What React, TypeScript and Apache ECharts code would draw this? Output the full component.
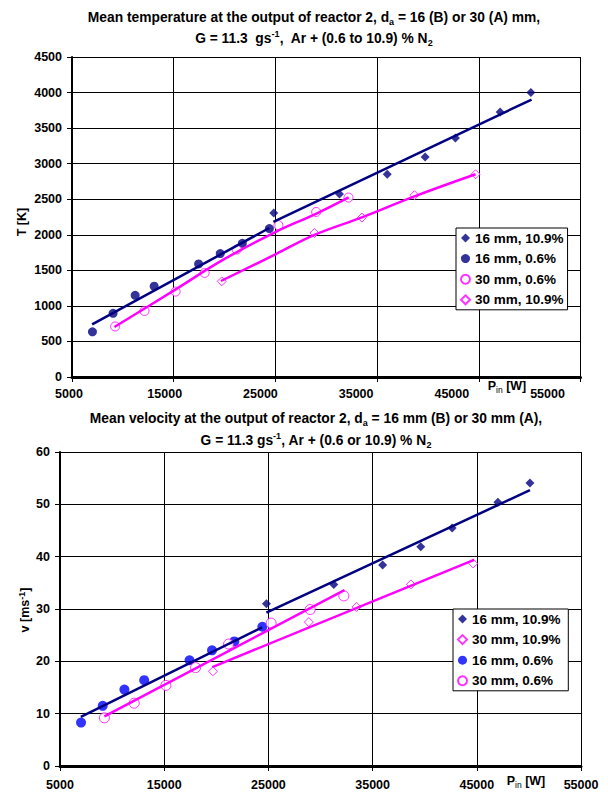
import React, { useEffect, useRef } from 'react';
import * as echarts from 'echarts';

// ---------- Top chart: mean temperature T [K] vs P_in [W] ----------
const tempP16_109 = [24840, 31300, 36000, 39720, 42700, 47100, 50120];
const tempT16_109 = [2305, 2575, 2850, 3094, 3361, 3727, 4000];
const tempP16_06 = [7010, 9040, 11210, 13080, 17450, 19580, 21750, 24410];
const tempT16_06 = [635, 896, 1149, 1276, 1590, 1735, 1880, 2087];
const tempP30_06 = [9240, 12130, 15190, 18040, 21200, 25300, 29010, 32190];
const tempT30_06 = [710, 928, 1201, 1463, 1792, 2134, 2321, 2523];
const tempP30_109 = [19720, 28840, 33510, 38670, 44680];
const tempT30_109 = [1345, 2025, 2242, 2556, 2851];

// trend lines
const fitTP16_06 = [6980, 24400];
const fitTT16_06 = [741, 2095];
const fitTP16_109 = [24800, 50190];
const fitTT16_109 = [2180, 3902];
const fitTP30_06 = [9170, 15000, 20000, 25000, 29040, 32200];
const fitTT30_06 = [703, 1215, 1660, 2039, 2298, 2525];
const fitTP30_109 = [19650, 25000, 28840, 33510, 38670, 44680];
const fitTT30_109 = [1350, 1725, 1998, 2245, 2540, 2851];

// ---------- Bottom chart: mean velocity v [m/s] vs P_in [W] ----------
const velP16_109 = [24810, 31280, 35960, 39620, 42630, 47020, 50100];
const velV16_109 = [31.0, 34.7, 38.4, 41.9, 45.5, 50.4, 54.1];
const velP30_109 = [19680, 28880, 33460, 38680, 44650];
const velV30_109 = [18.1, 27.5, 30.4, 34.7, 38.7];
const velP16_06 = [7020, 9100, 11180, 13080, 17430, 19590, 21730, 24420];
const velV16_06 = [8.3, 11.5, 14.6, 16.4, 20.2, 22.1, 23.8, 26.6];
const velP30_06 = [9260, 12120, 15160, 18010, 21180, 25260, 29010, 32240];
const velV30_06 = [9.2, 12.0, 15.4, 18.8, 23.3, 27.3, 29.9, 32.5];

const fitVP16_06 = [7000, 24400];
const fitVV16_06 = [9.4, 26.5];
const fitVP16_109 = [24810, 50100];
const fitVV16_109 = [29.3, 52.7];
const fitVP30_06 = [9260, 32300];
const fitVV30_06 = [9.5, 33.6];
const fitVP30_109 = [19620, 44740];
const fitVV30_109 = [18.9, 39.4];

// axis ranges / tick steps
const xMin = 5000;
const xMax = 55000;
const xStep = 10000;
const tMax = 4500;
const tStep = 500;
const vMax = 60;
const vStep = 10;

const topLegend = ['16 mm, 10.9%', '16 mm, 0.6%', '30 mm, 0.6%', '30 mm, 10.9%'];
const botLegend = ['16 mm, 10.9% ', '30 mm, 10.9% ', '16 mm, 0.6% ', '30 mm, 0.6% '];

const NAVY = '#000080';
const MAG = '#FF00FF';
const BLUE = '#0000FF';
const FONT = '"Liberation Sans", Arial, Helvetica, sans-serif';
const LABEL_SIZE = 12.5;

const zip = (a: number[], b: number[]) => a.map((v, i) => [v, b[i]]);
const plain = (v: number) => String(v);

const labelStyle = (margin: number) => ({
  color: '#000',
  fontWeight: 'bold',
  fontSize: LABEL_SIZE,
  fontFamily: FONT,
  margin,
  formatter: plain,
});

function xAxisCfg(gridIndex: number, showLabels: boolean) {
  return {
    type: 'value',
    gridIndex,
    min: xMin,
    max: xMax,
    interval: xStep,
    axisLine: { show: true, onZero: false, lineStyle: { color: '#000', width: 3 } },
    axisTick: { show: true, inside: false, length: 5, lineStyle: { color: '#000', width: 1 } },
    axisLabel: { ...labelStyle(12), show: showLabels },
    splitLine: { show: true, lineStyle: { color: '#000', width: 1 } },
  };
}

// label-only axis (the top chart's tick labels sit slightly left of their ticks)
function xLabelAxis(gridIndex: number) {
  return {
    type: 'value',
    gridIndex,
    min: xMin,
    max: xMax,
    interval: xStep,
    axisLine: { show: false },
    axisTick: { show: false },
    axisLabel: labelStyle(10),
    splitLine: { show: false },
  };
}

function yAxisCfg(gridIndex: number, max: number, step: number) {
  return {
    type: 'value',
    gridIndex,
    min: 0,
    max,
    interval: step,
    axisLine: { show: true, onZero: false, lineStyle: { color: '#000', width: 2 } },
    axisTick: { show: true, inside: false, length: 5, lineStyle: { color: '#000', width: 1 } },
    axisLabel: labelStyle(10),
    splitLine: { show: true, lineStyle: { color: '#000', width: 1 } },
  };
}

function scatter(name: string, idx: number, data: number[][], symbol: string, color: string, hollow: boolean, size: number) {
  return {
    type: 'scatter',
    name,
    xAxisIndex: idx,
    yAxisIndex: idx,
    data,
    symbol,
    symbolSize: size,
    z: 3,
    itemStyle: hollow
      ? { color: '#FFFFFF', borderColor: color, borderWidth: 1 }
      : { color, borderColor: color, borderWidth: 0 },
  };
}

function fit(name: string, idx: number, data: number[][], color: string, smooth: boolean) {
  return {
    type: 'line',
    name,
    xAxisIndex: idx,
    yAxisIndex: idx,
    data,
    symbol: 'none',
    showSymbol: false,
    smooth: smooth ? 0.4 : false,
    z: 4,
    lineStyle: { color, width: 2.5 },
  };
}

const TS = 13.8;
const richText = {
  b: { fontSize: TS, fontWeight: 'bold', fontFamily: FONT, fill: '#000', lineHeight: 18 },
  a: { fontSize: LABEL_SIZE, fontWeight: 'bold', fontFamily: FONT, fill: '#000', lineHeight: 16 },
  sub: { fontSize: 9, fontWeight: 'bold', fontFamily: FONT, fill: '#000', lineHeight: 9, verticalAlign: 'bottom' },
  sup: { fontSize: 9, fontWeight: 'bold', fontFamily: FONT, fill: '#000', lineHeight: 11, verticalAlign: 'top' },
  sn: { fontSize: 8.5, fontFamily: FONT, fill: '#000', lineHeight: 8, verticalAlign: 'bottom' },
};

function txt(x: number, y: number, text: string, rotation = 0) {
  return {
    type: 'text',
    x,
    y,
    rotation,
    style: {
      text,
      textAlign: 'center',
      textVerticalAlign: 'middle',
      rich: richText,
    },
  };
}

export default function App() {
  const ref = useRef<HTMLDivElement>(null);
  useEffect(() => {
    if (!ref.current) return;
    const chart = echarts.init(ref.current, null, { renderer: 'svg' });
    const legendCommon = {
      orient: 'vertical',
      backgroundColor: '#FFFFFF',
      borderColor: '#000',
      borderWidth: 1,
      padding: [2, 4, 2, 4],
      itemGap: 4.6,
      itemWidth: 9,
      itemHeight: 9,
      selectedMode: false,
      textStyle: { color: '#000', fontWeight: 'bold', fontSize: 13.5, fontFamily: FONT, lineHeight: 16 },
    };
    chart.setOption({
      animation: false,
      backgroundColor: '#FFFFFF',
      grid: [
        { left: 72, top: 57, width: 508.5, height: 320 },
        { left: 60, top: 452, width: 521, height: 314 },
        { left: 69, top: 57, width: 478.5, height: 320 },
      ],
      xAxis: [xAxisCfg(0, false), xAxisCfg(1, true), xLabelAxis(2)],
      yAxis: [yAxisCfg(0, tMax, tStep), yAxisCfg(1, vMax, vStep), { type: 'value', gridIndex: 2, show: false, min: 0, max: tMax }],
      legend: [
        { ...legendCommon, data: topLegend, left: 456, top: 228 },
        { ...legendCommon, data: botLegend, left: 453, top: 609 },
      ],
      series: [
        fit('fitT16_06', 0, zip(fitTP16_06, fitTT16_06), NAVY, false),
        fit('fitT16_109', 0, zip(fitTP16_109, fitTT16_109), NAVY, false),
        fit('fitT30_06', 0, zip(fitTP30_06, fitTT30_06), MAG, true),
        fit('fitT30_109', 0, zip(fitTP30_109, fitTT30_109), MAG, true),
        scatter(topLegend[0], 0, zip(tempP16_109, tempT16_109), 'diamond', NAVY, false, 9),
        scatter(topLegend[1], 0, zip(tempP16_06, tempT16_06), 'circle', NAVY, false, 9),
        scatter(topLegend[2], 0, zip(tempP30_06, tempT30_06), 'circle', MAG, true, 9),
        scatter(topLegend[3], 0, zip(tempP30_109, tempT30_109), 'diamond', MAG, true, 9),

        fit('fitV16_06', 1, zip(fitVP16_06, fitVV16_06), NAVY, false),
        fit('fitV16_109', 1, zip(fitVP16_109, fitVV16_109), NAVY, false),
        fit('fitV30_06', 1, zip(fitVP30_06, fitVV30_06), MAG, false),
        fit('fitV30_109', 1, zip(fitVP30_109, fitVV30_109), MAG, false),
        scatter(botLegend[0], 1, zip(velP16_109, velV16_109), 'diamond', NAVY, false, 9),
        scatter(botLegend[1], 1, zip(velP30_109, velV30_109), 'diamond', MAG, true, 9),
        scatter(botLegend[2], 1, zip(velP16_06, velV16_06), 'circle', BLUE, false, 10),
        scatter(botLegend[3], 1, zip(velP30_06, velV30_06), 'circle', MAG, true, 10),
      ],
      graphic: [
        txt(314, 17, '{b|Mean temperature at the output of reactor 2, d}{sub|a}{b| = 16 (B) or 30 (A) mm,}'),
        txt(314, 38, '{b|G = 11.3  gs}{sup|-1}{b|,  Ar + (0.6 to 10.9) % N}{sub|2}'),
        txt(316, 418, '{b|Mean velocity at the output of reactor 2, d}{sub|a}{b| = 16 mm (B) or 30 mm (A),}'),
        txt(316, 440, '{b|G = 11.3 gs}{sup|-1}{b|, Ar + (0.6 or 10.9) % N}{sub|2}'),
        txt(22, 222, '{a|T [K]}', Math.PI / 2),
        txt(25, 610, '{a|v [ms}{sup|-1}{a|]}', Math.PI / 2),
        txt(507, 386, '{a|P}{sn|in}{a| [W]}'),
        txt(526, 781, '{a|P}{sn|in}{a| [W]}'),
      ],
    });
    return () => chart.dispose();
  }, []);
  return (
    <div
      ref={ref}
      style={{ position: 'fixed', left: 0, top: 0, width: 608, height: 792, background: '#fff' }}
    />
  );
}
